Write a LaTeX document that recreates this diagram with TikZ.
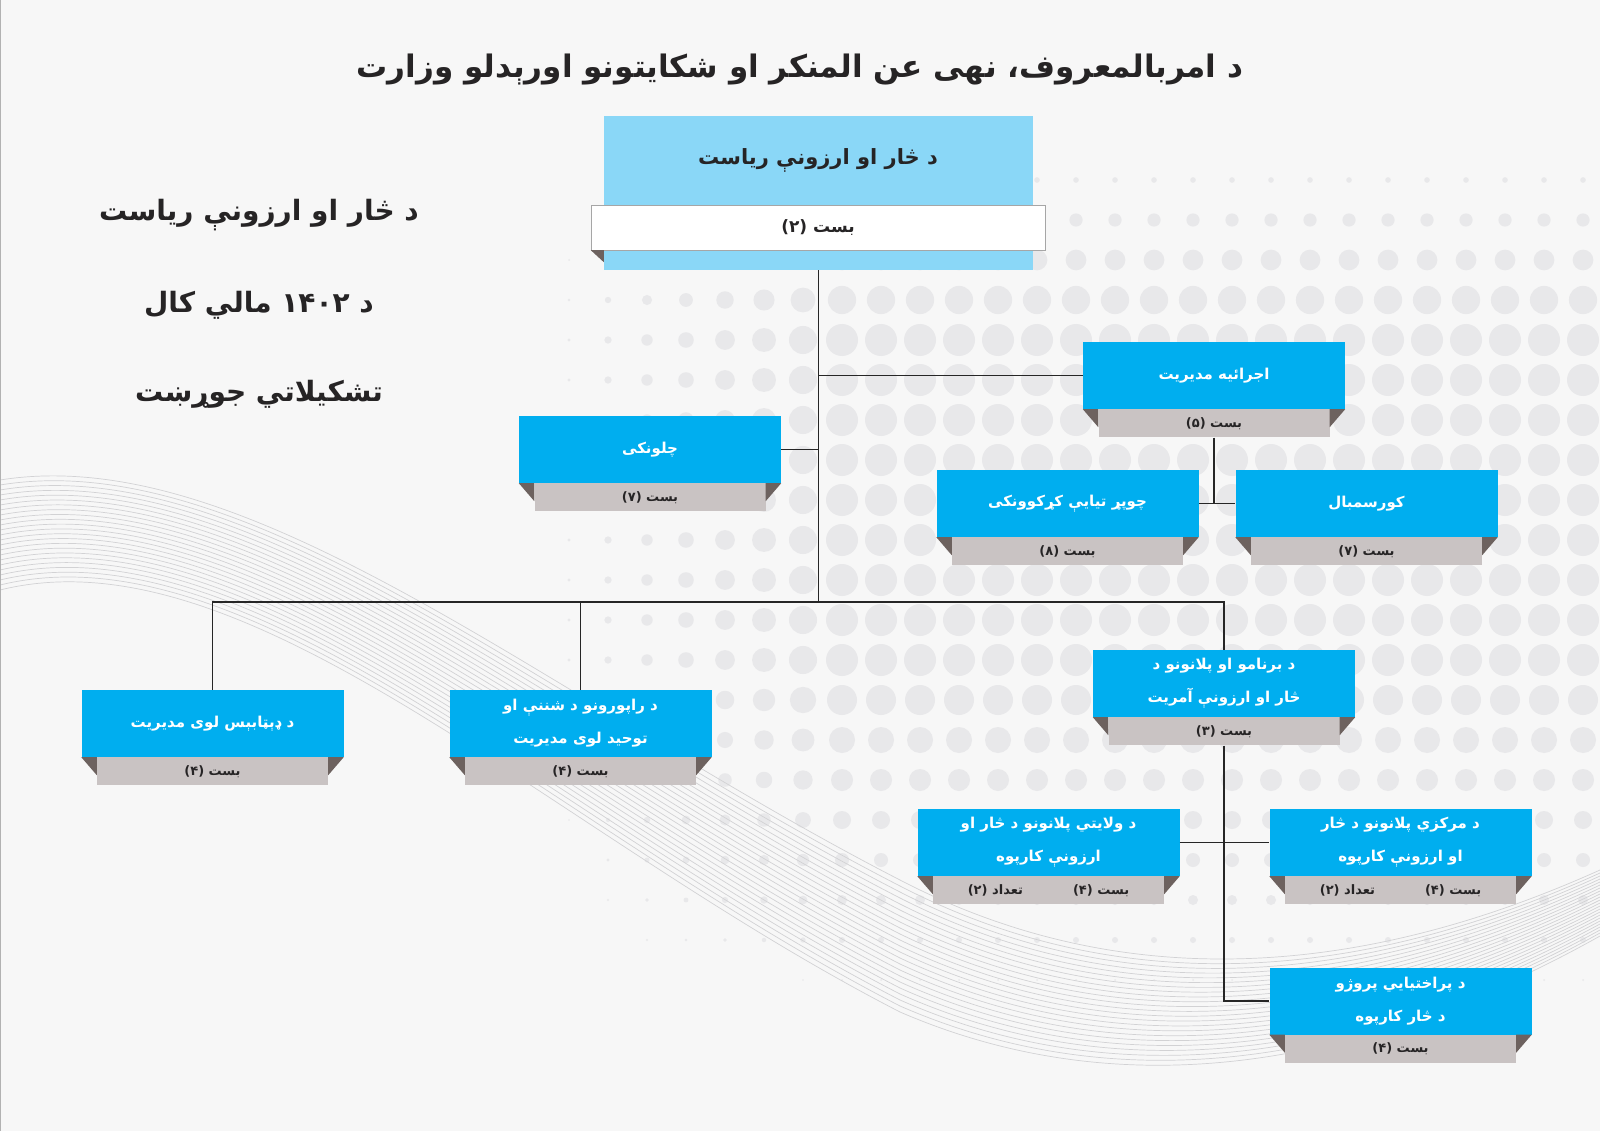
\documentclass[tikz,border=0pt]{standalone}
\usepackage{fontspec}
\newfontfamily\ps[Script=Arabic]{DejaVu Sans}
\TeXXeTstate=1

\definecolor{unitblue}{HTML}{00AEEF}
\definecolor{headblue}{HTML}{8AD7F7}
\definecolor{bandgray}{HTML}{C9C3C3}
\definecolor{folddark}{HTML}{6D625F}
\definecolor{inkdark}{HTML}{262425}
\definecolor{dotgray}{HTML}{E8E8EA}
\definecolor{wavegray}{HTML}{D2D2D4}

\newcommand{\rl}[1]{\beginR #1\endR}

% blue unit with grey post band and folded corners
\newcommand{\unitbox}[4]{%
  \node[unit] (#1) at #2 {#3};
  \node[band] (#1b) at (#1.south) {#4};
  \fill[fold] (#1.south west) -- (#1b.north west) -- ([yshift=-18pt]#1b.north west) -- cycle;
  \fill[fold] (#1.south east) -- (#1b.north east) -- ([yshift=-18pt]#1b.north east) -- cycle;
}

\tikzset{
  unit/.style={fill=unitblue, minimum width=262pt, minimum height=67pt, inner sep=0pt,
    text=white, align=center, font=\ps\bfseries\fontsize{15}{33}\selectfont},
  band/.style={fill=bandgray, anchor=north, minimum width=231pt, minimum height=28pt,
    inner sep=0pt, text=inkdark, font=\ps\bfseries\fontsize{13}{15}\selectfont},
  fold/.style={fill=folddark},
  link/.style={draw=black!85, line width=1.2pt},
  sidetext/.style={text=inkdark, font=\ps\bfseries\fontsize{28}{32}\selectfont},
}

\begin{document}
\begin{tikzpicture}[x=1pt, y=-1pt]
\useasboundingbox (0,0) rectangle (1600,1131);

% Hintergrund
\fill[white!97!black] (0,0) rectangle (1600,1131);
\foreach \i in {0,...,27}{
  \foreach \j in {0,...,24}{
    \pgfmathsetmacro{\cx}{530+\i*39}
    \pgfmathsetmacro{\cy}{20+\j*40}
    \pgfmathsetmacro{\dotr}{16*min(1,max(0,(\cy-150)/170))*min(1,max(0,(\cx-540)/300))*min(1,max(0,(1000-\cy)/320))}
    \ifdim\dotr pt>0.8pt \fill[dotgray] (\cx,\cy) circle[radius=\dotr pt]; \fi
  }
}
\foreach \k in {0,...,22}{
  \draw[wavegray, line width=0.7pt]
    (0,{480+5*\k}) .. controls (250,{440+4*\k}) and (550,{700+6*\k}) .. (900,{880+6*\k})
    .. controls (1150,{1010+5*\k}) and (1400,{960+4*\k}) .. (1600,{870+3*\k});
}
\draw[gray!60, line width=1pt] (0,0) rectangle (1600,1131);

% Titel
\node[text=inkdark, font=\ps\bfseries\fontsize{31}{36}\selectfont] (title) at (800,70)
  {\rl{د امربالمعروف، نهی عن المنکر او شکایتونو اورېدلو وزارت}};

% Seitentext
\node[sidetext] (side1) at (259,215) {\rl{د څار او ارزونې ریاست}};
\node[sidetext] (side2) at (259,305) {\rl{د ۱۴۰۲ مالي کال}};
\node[sidetext] (side3) at (259,394) {\rl{تشکیلاتي جوړښت}};

% Kopf
\node[fill=headblue, minimum width=429pt, minimum height=154pt, inner sep=0pt] (head) at (818.5,193) {};
\node[text=inkdark, font=\ps\bfseries\fontsize{21}{25}\selectfont] (headtitle) at (818,160)
  {\rl{د څار او ارزونې ریاست}};
\node[fill=white, draw=gray!70, minimum width=454pt, minimum height=45pt, inner sep=0pt,
  text=inkdark, font=\ps\bfseries\fontsize{17}{20}\selectfont] (headband) at (818,227.5)
  {\rl{بست (۲)}};
\fill[fold] (headband.south west) -- ([xshift=13pt]headband.south west)
  -- ([xshift=13pt,yshift=-12pt]headband.south west) -- cycle;

% Einheiten
\unitbox{ejraia}{(1214,375.5)}{\rl{اجرائیه مدیریت}}{\rl{بست (۵)}}
\unitbox{chalwonki}{(650,449.5)}{\rl{چلونکی}}{\rl{بست (۷)}}
\unitbox{chopar}{(1067.5,503.5)}{\rl{چوپړ تیایې کړکوونکی}}{\rl{بست (۸)}}
\unitbox{kursambal}{(1366.5,503.5)}{\rl{کورسمبال}}{\rl{بست (۷)}}
\unitbox{database}{(212.5,723.5)}{\rl{د ډېټابېس لوی مدیریت}}{\rl{بست (۴)}}
\unitbox{rapor}{(580.5,723.5)}{\rl{د راپورونو د شننې او}\\\rl{توحید لوی مدیریت}}{\rl{بست (۴)}}
\unitbox{barnamo}{(1224,683.5)}{\rl{د برنامو او پلانونو د}\\\rl{څار او ارزونې آمریت}}{\rl{بست (۳)}}
\unitbox{welayati}{(1048.5,842.5)}{\rl{د ولایتي پلانونو د څار او}\\\rl{ارزونې کارپوه}}{\rl{بست (۴)\hspace{50pt}تعداد (۲)}}
\unitbox{markazi}{(1400.5,842.5)}{\rl{د مرکزي پلانونو د څار}\\\rl{او ارزونې کارپوه}}{\rl{بست (۴)\hspace{50pt}تعداد (۲)}}
\unitbox{prakh}{(1400.5,1001)}{\rl{د پراختیایي پروژو}\\\rl{د څار کارپوه}}{\rl{بست (۴)}}

% Verbindungen
\coordinate (busL) at (212.5,602);
\coordinate (busR) at (1224,602);
\draw[link] (head.south) -- (head.south |- busL);
\draw[link] (ejraia.west) -- (ejraia.west -| head.south);
\draw[link] (chalwonki.east) -- (chalwonki.east -| head.south);
\draw[link] (database.north) -- (busL) -- (busR) -- (barnamo.north);
\draw[link] (rapor.north) -- (rapor.north |- busL);
\draw[link] (ejraiab.south) -- (ejraiab.south |- chopar.east);
\draw[link] (chopar.east) -- (kursambal.west);
\draw[link] (barnamob.south) |- (prakh.west);
\draw[link] (welayati.east) -- (markazi.west);
\end{tikzpicture}
\end{document}
